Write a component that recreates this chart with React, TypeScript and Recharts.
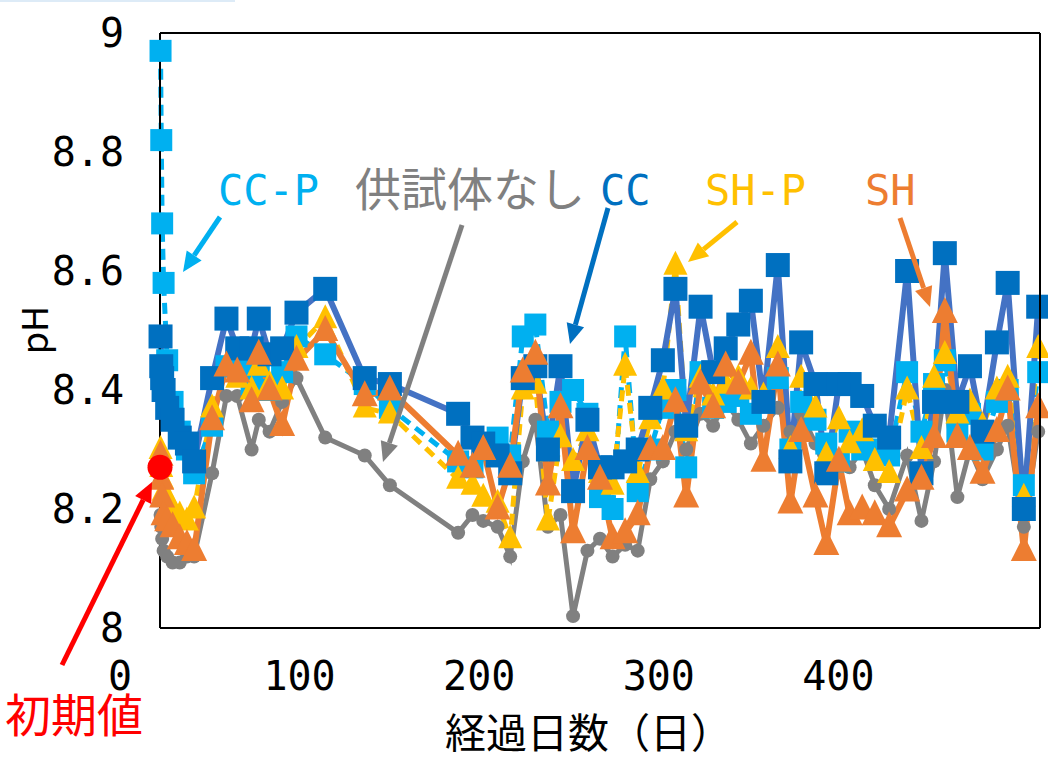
import React from "react";
import { LineChart, Line, XAxis, YAxis, ReferenceDot } from "recharts";

// elapsed days (shared sampling days)
const days = [
  0.3, 0.7, 1.2, 2, 4, 7, 11, 15, 19,
  29, 37, 43, 51, 55, 61, 68, 76,
  92, 114, 128,
  166, 174, 180, 188, 195, 202, 209, 216, 223, 230, 238, 245,
  252, 259, 266, 273, 280, 287, 293, 301, 308, 315, 322, 329, 336, 344, 351, 357, 365, 371,
  378, 384, 391, 398, 406, 416, 424, 431, 437, 444, 451, 458, 466, 472, 481, 489,
];

const none = [
  8.19, 8.17, 8.15, 8.13, 8.12, 8.11, 8.11, 8.12, 8.12,
  8.26, 8.39, 8.39, 8.30, 8.35, 8.33, 8.38, 8.42,
  8.32, 8.29, 8.24,
  8.16, 8.19, 8.18, 8.17, 8.12, 8.28, 8.35, 8.17, 8.19, 8.02, 8.13, 8.15,
  8.12, 8.14, 8.13, 8.25, 8.28, 8.33, 8.30, 8.36, 8.34, 8.38, 8.35, 8.31, 8.34, 8.37, 8.33, 8.36, 8.31, 8.26,
  8.29, 8.27, 8.30, 8.24, 8.20, 8.29, 8.18, 8.28, 8.40, 8.22, 8.30, 8.25, 8.30, 8.34, 8.17, 8.33,
];

const ccP = [
  8.97, 8.82, 8.68, 8.58, 8.45, 8.38, 8.33, 8.30, 8.26,
  8.34, 8.44, 8.44, 8.41, 8.44, 8.40, 8.43, 8.49,
  8.46, 8.41, 8.37,
  8.28, 8.27, 8.30, 8.32, 8.29, 8.49, 8.51, 8.33, 8.38, 8.40, 8.36, 8.22,
  8.20, 8.49, 8.23, 8.30, 8.37, 8.40, 8.27, 8.43, 8.37, 8.38, 8.39, 8.36, 8.38, 8.42, 8.30, 8.38, 8.35, 8.31,
  8.28, 8.33, 8.30, 8.30, 8.29, 8.43, 8.33, 8.41, 8.45, 8.33, 8.36, 8.30, 8.38, 8.40, 8.24, 8.43,
];

const shP = [
  8.30, 8.27, 8.25, 8.23, 8.22, 8.20, 8.19, 8.18, 8.20,
  8.37, 8.44, 8.42, 8.40, 8.44, 8.41, 8.40, 8.47,
  8.52, 8.37, 8.36,
  8.25, 8.24, 8.22, 8.21, 8.15, 8.40, 8.41, 8.18, 8.32, 8.28, 8.33, 8.26,
  8.24, 8.44, 8.26, 8.35, 8.40, 8.61, 8.33, 8.42, 8.39, 8.41, 8.42, 8.40, 8.39, 8.47, 8.30, 8.42, 8.37, 8.29,
  8.35, 8.31, 8.33, 8.28, 8.26, 8.40, 8.30, 8.42, 8.46, 8.36, 8.38, 8.34, 8.40, 8.42, 8.22, 8.47,
];

const cc = [
  8.49, 8.44, 8.42, 8.40, 8.37, 8.35, 8.32, 8.31, 8.28,
  8.42, 8.52, 8.47, 8.47, 8.52, 8.46, 8.47, 8.53,
  8.57, 8.42, 8.41,
  8.36, 8.32, 8.31, 8.29, 8.26, 8.42, 8.44, 8.30, 8.44, 8.23, 8.35, 8.27,
  8.27, 8.28, 8.30, 8.37, 8.45, 8.57, 8.34, 8.54, 8.43, 8.47, 8.51, 8.55, 8.38, 8.61, 8.28, 8.48, 8.41, 8.26,
  8.41, 8.41, 8.39, 8.34, 8.32, 8.60, 8.26, 8.38, 8.63, 8.38, 8.44, 8.33, 8.48, 8.58, 8.20, 8.54,
];

const sh = [
  8.29, 8.25, 8.22, 8.19, 8.18, 8.17, 8.15, 8.14, 8.13,
  8.35, 8.44, 8.43, 8.38, 8.46, 8.40, 8.34, 8.45,
  8.50, 8.39, 8.40,
  8.29, 8.27, 8.30, 8.20, 8.27, 8.43, 8.46, 8.24, 8.37, 8.16, 8.30, 8.25,
  8.15, 8.16, 8.19, 8.30, 8.30, 8.38, 8.22, 8.41, 8.37, 8.44, 8.41, 8.46, 8.28, 8.44, 8.21, 8.33, 8.22, 8.14,
  8.28, 8.19, 8.20, 8.19, 8.17, 8.23, 8.25, 8.32, 8.53, 8.32, 8.30, 8.26, 8.33, 8.40, 8.13, 8.37,
];

const initialDay = 0;
const initialPH = 8.27;

const xTicks = [0, 100, 200, 300, 400];
const yTicks = [8, 8.2, 8.4, 8.6, 8.8, 9];

const data = days.map((d, i) => ({
  day: d,
  none: none[i],
  ccP: ccP[i],
  shP: shP[i],
  cc: cc[i],
  sh: sh[i],
}));

const tickFont = "'DejaVu Sans Mono', monospace";
const jpFont = "'Noto Sans CJK JP', sans-serif";

const squareDot = (color: string, size: number) => (p: any) => (
  <rect key={`s-${p.index}`} x={p.cx - size / 2} y={p.cy - size / 2} width={size} height={size} fill={color} />
);

const triDot = (color: string, w: number, h: number) => (p: any) => (
  <polygon
    key={`t-${p.index}`}
    points={`${p.cx},${p.cy - h * 0.6} ${p.cx + w / 2},${p.cy + h * 0.4} ${p.cx - w / 2},${p.cy + h * 0.4}`}
    fill={color}
  />
);

const circleDot = (color: string, r: number) => (p: any) => (
  <circle key={`c-${p.index}`} cx={p.cx} cy={p.cy} r={r} fill={color} />
);

function Arrow({ x1, y1, x2, y2, color }: any) {
  const len = Math.hypot(x2 - x1, y2 - y1);
  const ux = (x2 - x1) / len;
  const uy = (y2 - y1) / len;
  const hl = 20;
  const hw = 9;
  const bx = x2 - ux * hl;
  const by = y2 - uy * hl;
  return (
    <g>
      <line x1={x1} y1={y1} x2={bx} y2={by} stroke={color} strokeWidth={5} />
      <polygon
        points={`${x2},${y2} ${bx - uy * hw},${by + ux * hw} ${bx + uy * hw},${by - ux * hw}`}
        fill={color}
      />
    </g>
  );
}

export default function App() {
  return (
    <div style={{ position: "absolute", left: 0, top: 0, width: 1048, height: 764, background: "#fff" }}>
      <LineChart width={1048} height={764} data={data} margin={{ top: 33, right: 8, bottom: 76, left: 0 }}>
        <XAxis
          dataKey="day"
          type="number"
          domain={[0, 490]}
          ticks={xTicks}
          height={60}
          tickLine={false}
          tickSize={0}
          tickMargin={34}
          axisLine={{ stroke: "#000", strokeWidth: 2 }}
          tick={{ fill: "#000", fontSize: 40, fontFamily: tickFont, dx: -40 }}
        />
        <YAxis
          type="number"
          domain={[8, 9]}
          ticks={yTicks}
          width={160}
          tickLine={false}
          tickSize={0}
          tickMargin={36}
          axisLine={{ stroke: "#000", strokeWidth: 2 }}
          tickFormatter={(v: number) => (Number.isInteger(v) ? String(v) : v.toFixed(1))}
          tick={{ fill: "#000", fontSize: 40, fontFamily: tickFont }}
        />
        <Line
          dataKey="none"
          stroke="#808080"
          strokeWidth={5}
          dot={circleDot("#808080", 7)}
          activeDot={false}
          isAnimationActive={false}
        />
        <Line
          dataKey="ccP"
          stroke="#00B0F0"
          strokeWidth={5}
          strokeDasharray="11 7"
          dot={squareDot("#00B0F0", 22)}
          activeDot={false}
          isAnimationActive={false}
        />
        <Line
          dataKey="shP"
          stroke="#FFC000"
          strokeWidth={5}
          strokeDasharray="11 7"
          dot={triDot("#FFC000", 24, 24)}
          activeDot={false}
          isAnimationActive={false}
        />
        <Line
          dataKey="cc"
          stroke="#4472C4"
          strokeWidth={6}
          dot={squareDot("#0070C0", 24)}
          activeDot={false}
          isAnimationActive={false}
        />
        <Line
          dataKey="sh"
          stroke="#ED7D31"
          strokeWidth={6}
          dot={triDot("#ED7D31", 26, 26)}
          activeDot={false}
          isAnimationActive={false}
        />
        <ReferenceDot x={initialDay} y={initialPH} r={12.5} fill="#FF0000" stroke="none" />
      </LineChart>
      <svg
        width={1048}
        height={764}
        style={{ position: "absolute", left: 0, top: 0, pointerEvents: "none" }}
      >
        <line x1={0} y1={1} x2={235} y2={1} stroke="#DDEBF7" strokeWidth={2} />
        <line x1={160} y1={33} x2={1040} y2={33} stroke="#000" strokeWidth={2} />
        <line x1={1040} y1={33} x2={1040} y2={628} stroke="#000" strokeWidth={2} />

        <text x={32} y={330} transform="rotate(-90 32 330)" textAnchor="middle" dominantBaseline="central"
          fontSize={36} fontFamily={jpFont} fill="#000">pH</text>
        <text x={445} y={748} fontSize={41} fontFamily={jpFont} fill="#000">経過日数（日）</text>

        <text x={218} y={205} fontSize={42} fontFamily={tickFont} fill="#00B0F0">CC-P</text>
        <text x={355} y={206} fontSize={46} fontFamily={jpFont} fill="#808080">供試体なし</text>
        <text x={600} y={205} fontSize={42} fontFamily={tickFont} fill="#0070C0">CC</text>
        <text x={705} y={205} fontSize={42} fontFamily={tickFont} fill="#FFC000">SH-P</text>
        <text x={865} y={205} fontSize={42} fontFamily={tickFont} fill="#ED7D31">SH</text>
        <text x={5} y={732} fontSize={46} fontFamily={jpFont} fill="#FF0000">初期値</text>

        <Arrow x1={220} y1={217} x2={183} y2={272} color="#00B0F0" />
        <Arrow x1={462} y1={225} x2={383} y2={462} color="#808080" />
        <Arrow x1={608} y1={208} x2={570} y2={344} color="#0070C0" />
        <Arrow x1={737} y1={222} x2={688} y2={262} color="#FFC000" />
        <Arrow x1={900} y1={218} x2={930} y2={307} color="#ED7D31" />
        <Arrow x1={62} y1={665} x2={152} y2={482} color="#FF0000" />
      </svg>
    </div>
  );
}
